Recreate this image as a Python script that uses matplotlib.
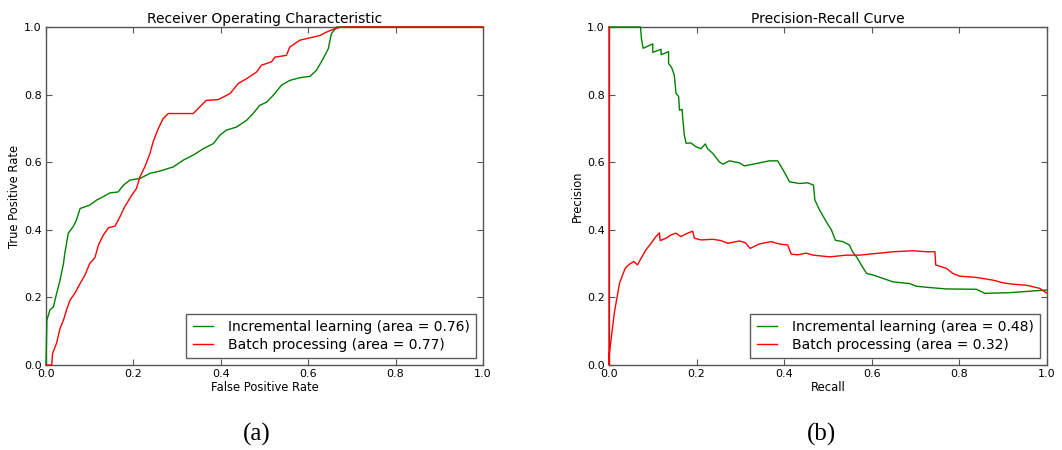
import numpy as np
from matplotlib import pyplot as plt

# ROC curves
roc_inc_fpr = [0.0, 0.002, 0.009, 0.017, 0.024, 0.032, 0.04, 0.043, 0.051, 0.0625, 0.07, 0.078,
               0.089, 0.1, 0.116, 0.131, 0.146, 0.165, 0.177, 0.192, 0.215, 0.238, 0.261, 0.291,
               0.314, 0.337, 0.36, 0.383, 0.398, 0.413, 0.436, 0.459, 0.474, 0.489, 0.505, 0.52,
               0.539, 0.558, 0.581, 0.604, 0.619, 0.634, 0.646, 0.653, 0.665, 1.0]
roc_inc_tpr = [0.0, 0.133, 0.163, 0.172, 0.21, 0.25, 0.30, 0.33, 0.39, 0.41, 0.43, 0.463,
               0.468, 0.473, 0.488, 0.498, 0.509, 0.512, 0.532, 0.547, 0.552, 0.567, 0.574, 0.586,
               0.606, 0.621, 0.64, 0.655, 0.68, 0.695, 0.704, 0.724, 0.744, 0.768, 0.778, 0.798,
               0.828, 0.842, 0.85, 0.854, 0.872, 0.906, 0.936, 0.98, 1.0, 1.0]

roc_bat_fpr = [0.0, 0.013, 0.015, 0.024, 0.032, 0.04, 0.047, 0.055, 0.066, 0.078, 0.089, 0.1,
               0.112, 0.12, 0.131, 0.143, 0.158, 0.169, 0.18, 0.196, 0.207, 0.215, 0.226, 0.238,
               0.245, 0.257, 0.268, 0.28, 0.337, 0.352, 0.367, 0.394, 0.421, 0.44, 0.459, 0.482,
               0.493, 0.516, 0.524, 0.55, 0.558, 0.581, 0.611, 0.627, 0.642, 0.657, 0.672, 0.691, 1.0]
roc_bat_tpr = [0.0, 0.0, 0.034, 0.064, 0.108, 0.133, 0.163, 0.192, 0.212, 0.241, 0.266, 0.30,
               0.318, 0.355, 0.384, 0.406, 0.411, 0.438, 0.468, 0.502, 0.522, 0.557, 0.586, 0.626,
               0.66, 0.70, 0.729, 0.744, 0.744, 0.764, 0.783, 0.785, 0.803, 0.833, 0.847, 0.867,
               0.887, 0.897, 0.911, 0.916, 0.941, 0.961, 0.97, 0.975, 0.985, 0.993, 0.999, 1.0, 1.0]

# precision-recall curves
pr_inc_recall = [0.0, 0.072, 0.074, 0.078, 0.1, 0.1, 0.119, 0.119, 0.136, 0.136, 0.143, 0.149,
                 0.153, 0.159, 0.161, 0.167, 0.168, 0.172, 0.176, 0.187, 0.198, 0.21, 0.22, 0.225,
                 0.237, 0.252, 0.26, 0.275, 0.298, 0.309, 0.336, 0.366, 0.385, 0.393, 0.404, 0.412,
                 0.435, 0.454, 0.467, 0.47, 0.481, 0.496, 0.508, 0.517, 0.534, 0.549, 0.556, 0.565,
                 0.576, 0.588, 0.603, 0.626, 0.648, 0.686, 0.702, 0.725, 0.77, 0.839, 0.858, 0.915, 1.0]
pr_inc_precision = [1.0, 1.0, 0.966, 0.937, 0.95, 0.925, 0.934, 0.918, 0.927, 0.892, 0.88, 0.858,
                    0.804, 0.794, 0.754, 0.756, 0.735, 0.68, 0.656, 0.657, 0.646, 0.64, 0.654, 0.64,
                    0.626, 0.601, 0.594, 0.604, 0.598, 0.589, 0.596, 0.604, 0.604, 0.587, 0.562, 0.542,
                    0.537, 0.539, 0.532, 0.488, 0.458, 0.424, 0.399, 0.369, 0.365, 0.355, 0.335, 0.32,
                    0.296, 0.271, 0.266, 0.256, 0.246, 0.241, 0.233, 0.23, 0.225, 0.224, 0.212, 0.214, 0.222]

pr_bat_recall = [0.0, 0.0, 0.001, 0.012, 0.024, 0.031, 0.037, 0.042, 0.05, 0.057, 0.065, 0.069,
                 0.084, 0.096, 0.107, 0.115, 0.117, 0.13, 0.142, 0.153, 0.164, 0.176, 0.191, 0.195,
                 0.21, 0.237, 0.256, 0.271, 0.298, 0.311, 0.322, 0.343, 0.37, 0.389, 0.408, 0.416,
                 0.431, 0.45, 0.466, 0.504, 0.542, 0.572, 0.61, 0.648, 0.694, 0.725, 0.744, 0.746,
                 0.77, 0.785, 0.8, 0.839, 0.877, 0.9, 0.922, 0.953, 0.983, 1.0]
pr_bat_precision = [1.0, 0.0, 0.035, 0.153, 0.242, 0.266, 0.286, 0.293, 0.301, 0.306, 0.296, 0.306,
                    0.34, 0.36, 0.38, 0.391, 0.368, 0.375, 0.385, 0.39, 0.38, 0.388, 0.396, 0.375,
                    0.37, 0.372, 0.368, 0.36, 0.367, 0.362, 0.345, 0.358, 0.365, 0.358, 0.355, 0.328,
                    0.326, 0.331, 0.325, 0.32, 0.325, 0.325, 0.33, 0.335, 0.338, 0.335, 0.335, 0.296,
                    0.286, 0.271, 0.263, 0.259, 0.251, 0.243, 0.239, 0.236, 0.227, 0.212]

series_labels = ['Incremental learning', 'Batch processing']
roc_areas = [0.76, 0.77]
pr_areas = [0.48, 0.32]
ticks = [0.0, 0.2, 0.4, 0.6, 0.8, 1.0]


def style_axes(ax, title, xlabel, ylabel):
    ax.set_xlim(0, 1)
    ax.set_ylim(0, 1)
    ax.set_xticks(ticks)
    ax.set_yticks(ticks)
    ax.set_xticklabels(['%.1f' % t for t in ticks])
    ax.set_yticklabels(['%.1f' % t for t in ticks])
    ax.tick_params(direction='in', top=True, right=True, length=4, width=0.8,
                   labelsize=8, pad=3, color='#555555')
    ax.set_title(title, fontsize=10, pad=3)
    ax.set_xlabel(xlabel, fontsize=8.3, labelpad=1)
    ax.set_ylabel(ylabel, fontsize=8.3, labelpad=2)
    for spine in ax.spines.values():
        spine.set_color('#555555')
        spine.set_linewidth(1.0)


def plot_curves():
    fig = plt.figure(figsize=(10.62, 4.5), dpi=100)
    ax_roc = fig.add_axes([46 / 1062, 85 / 450, 437 / 1062, 338 / 450])
    ax_pr = fig.add_axes([609 / 1062, 85 / 450, 438 / 1062, 338 / 450])

    # lines sit above the spines (and are not clipped), like the old matplotlib output
    line_kw = dict(lw=1, zorder=3, clip_on=False)
    ax_roc.plot(roc_inc_fpr, roc_inc_tpr, color='g',
                label='%s (area = %.2f)' % (series_labels[0], roc_areas[0]), **line_kw)
    ax_roc.plot(roc_bat_fpr, roc_bat_tpr, color='r',
                label='%s (area = %.2f)' % (series_labels[1], roc_areas[1]), **line_kw)
    style_axes(ax_roc, 'Receiver Operating Characteristic', 'False Positive Rate', 'True Positive Rate')

    ax_pr.plot(pr_inc_recall, pr_inc_precision, color='g',
               label='%s (area = %.2f)' % (series_labels[0], pr_areas[0]), **line_kw)
    ax_pr.plot(pr_bat_recall, pr_bat_precision, color='r',
               label='%s (area = %.2f)' % (series_labels[1], pr_areas[1]), **line_kw)
    style_axes(ax_pr, 'Precision-Recall Curve', 'Recall', 'Precision')

    for ax in (ax_roc, ax_pr):
        leg = ax.legend(loc='lower right', fontsize=10, fancybox=False, handlelength=1.45,
                        handletextpad=1.1, borderaxespad=0.5, labelspacing=0.25, borderpad=0.45)
        leg.get_frame().set_edgecolor('#333333')
        leg.get_frame().set_linewidth(1.0)
        leg.set_zorder(5)

    fig.text(257 / 1062, 1 - 434 / 450, '(a)', fontsize=18, family='Liberation Serif',
             ha='center', va='center')
    fig.text(821 / 1062, 1 - 434 / 450, '(b)', fontsize=18, family='Liberation Serif',
             ha='center', va='center')
    return fig


if __name__ == '__main__':
    fig = plot_curves()
    fig.savefig('out.png', dpi=100, facecolor='white')
